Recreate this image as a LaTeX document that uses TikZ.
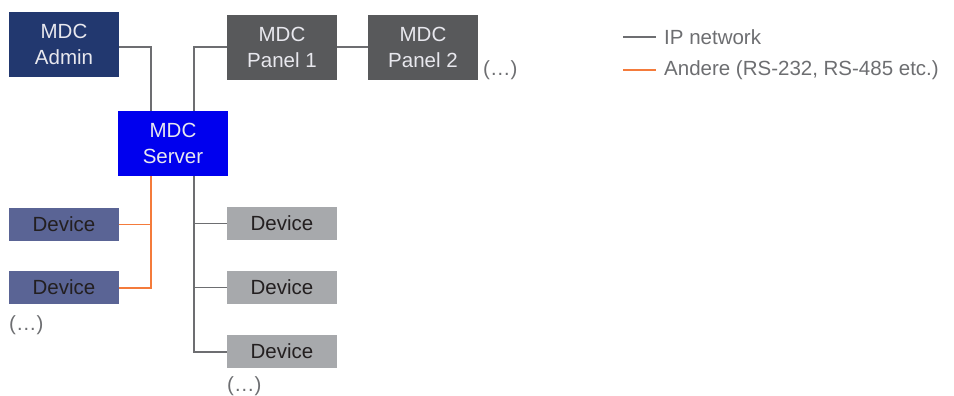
\documentclass[tikz,border=0pt]{standalone}
\usepackage{fontspec}
\setmainfont{Liberation Sans}
\begin{document}
\begin{tikzpicture}[x=1pt,y=-1pt,
  box/.style={draw=none,inner sep=0pt,minimum width=110pt,font=\fontsize{20.5}{26}\selectfont,align=center},
  admin/.style={box,fill=admincol,text=lighttxt,minimum height=65pt},
  panel/.style={box,fill=panelcol,text=lighttxt,minimum height=65pt},
  server/.style={box,fill=servercol,text=lighttxt,minimum height=65pt},
  ldev/.style={box,fill=ldevcol,text=darktxt,minimum height=33pt},
  rdev/.style={box,fill=rdevcol,text=darktxt,minimum height=33pt},
  ipline/.style={draw=ipcol,line width=1.4pt},
  orline/.style={draw=orcol,line width=1.4pt},
  note/.style={text=notecol,font=\fontsize{20.5}{26}\selectfont,inner sep=0pt,anchor=west}]
\definecolor{admincol}{HTML}{22386F}
\definecolor{panelcol}{HTML}{58595B}
\definecolor{servercol}{HTML}{0000EE}
\definecolor{ldevcol}{HTML}{5A6495}
\definecolor{rdevcol}{HTML}{A7A9AC}
\definecolor{lighttxt}{HTML}{E8E8EE}
\definecolor{darktxt}{HTML}{231F20}
\definecolor{ipcol}{HTML}{6D6E71}
\definecolor{orcol}{HTML}{F47B3B}
\definecolor{notecol}{HTML}{6D6E71}
\useasboundingbox (0,0) rectangle (954,396);
% nodes
\node[admin] (admin) at (64,44.5) {MDC\\Admin};
\node[panel] (p1) at (282,47.5) {MDC\\Panel 1};
\node[panel] (p2) at (423,47.5) {MDC\\Panel 2};
\node[server] (srv) at (173,143.5) {MDC\\Server};
\node[ldev] (l1) at (64,224.5) {Device};
\node[ldev] (l2) at (64,287.5) {Device};
\node[rdev] (r1) at (282,223.5) {Device};
\node[rdev] (r2) at (282,287.5) {Device};
\node[rdev] (r3) at (282,351.5) {Device};
\node[note] (e1) at (483,70) {(\dots)};
\node[note] (e2) at (9,325) {(\dots)};
\node[note] (e3) at (227,386) {(\dots)};
% junction coordinates
\coordinate (ja) at (151,47);
\coordinate (jp) at (194,47);
\coordinate (jo) at (151,288);
\coordinate (jr) at (194,352);
% IP connectors
\draw[ipline] (admin.east |- ja) -- (ja) -- (ja |- srv.north);
\draw[ipline] (p1.west |- jp) -- (jp) -- (jp |- srv.north);
\draw[ipline] (p1.east |- jp) -- (p2.west |- jp);
\draw[ipline] (jr |- srv.south) -- (jr) -- (r3.west |- jr);
\draw[ipline] (jr |- r1.west) -- (r1.west);
\draw[ipline] (jr |- r2.west) -- (r2.west);
% orange connectors
\draw[orline] (ja |- srv.south) -- (jo) -- (l2.east |- jo);
\draw[orline] (ja |- l1.east) -- (l1.east);
% legend
\coordinate (k1a) at (623,37);
\coordinate (k1b) at (656,37);
\coordinate (k2a) at (623,70);
\coordinate (k2b) at (656,70);
\draw[ipline] (k1a) -- (k1b);
\draw[orline] (k2a) -- (k2b);
\node[note] (t1) at (664,37) {IP network};
\node[note] (t2) at (664,70) {Andere (RS-232, RS-485 etc.)};
\end{tikzpicture}
\end{document}
